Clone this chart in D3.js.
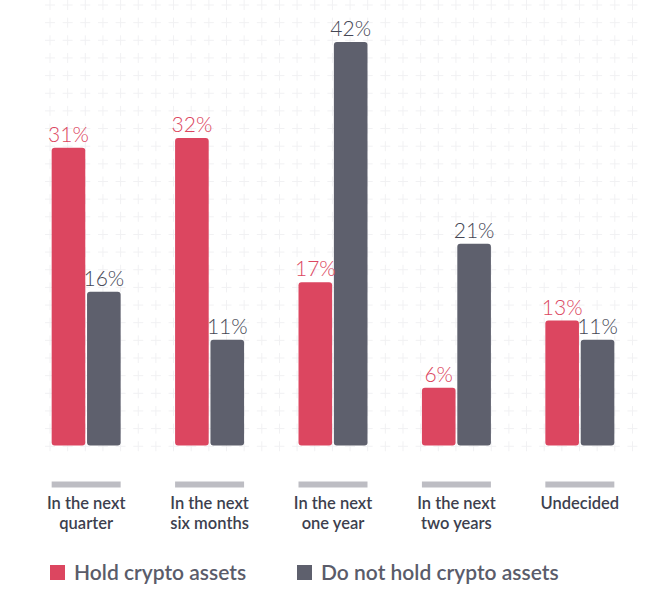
<!DOCTYPE html>
<html>
<head>
<meta charset="utf-8">
<script src="https://cdn.jsdelivr.net/npm/d3@7"></script>
<style>
  body { margin: 0; background: #fff; }
  svg { display: block; }
</style>
</head>
<body>
<div id="chart"></div>
<script>
// data
const categories = ["In the next|quarter", "In the next|six months", "In the next|one year", "In the next|two years", "Undecided"]
const seriesNames = ["Hold crypto assets", "Do not hold crypto assets"]
const holdValues = [31, 32, 17, 6, 13]
const notHoldValues = [16, 11, 42, 21, 11]

const width = 670
const height = 604
const baseY = 445.5
const colors = ["#dc4660", "#5e606d"]
const labelColors = ["#dc4660", "#454755"]

const svg = d3.select("#chart")
  .append("svg")
  .attr("width", width)
  .attr("height", height)

// background grid of little crosses
const gridG = svg.append("g").attr("class", "grid")
const crossCols = d3.range(34).map(i => 50 + i * 17.65)
const crossRows = d3.range(26).map(i => 5 + i * 17.65)
crossRows.forEach(cy => {
  crossCols.forEach(cx => {
    gridG.append("path")
      .attr("d", `M${cx - 5},${cy}H${cx + 5}M${cx},${cy - 5}V${cy + 5}`)
      .attr("stroke", "#f1f1f3")
      .attr("stroke-width", 1)
      .attr("fill", "none")
  })
})

const x0 = d3.scaleBand()
  .domain(categories)
  .range([24.45, 641.55])
  .paddingInner(0.441)
  .paddingOuter(0.2205)

const x1 = d3.scaleBand()
  .domain([0, 1])
  .range([0, x0.bandwidth()])
  .paddingInner(0.05)

const y = d3.scaleLinear()
  .domain([0, 42])
  .range([baseY, 42])

const rows = categories.map((c, i) => ({ cat: c, vals: [holdValues[i], notHoldValues[i]] }))

const groups = svg.selectAll(".group")
  .data(rows)
  .enter().append("g")
  .attr("class", "group")
  .attr("transform", d => `translate(${x0(d.cat)},0)`)

// bars with rounded corners
groups.selectAll(".bar")
  .data(d => d.vals.map((v, s) => ({ v, s })))
  .enter().append("rect")
  .attr("class", "bar")
  .attr("x", d => x1(d.s))
  .attr("y", d => y(d.v))
  .attr("width", x1.bandwidth())
  .attr("height", d => baseY - y(d.v))
  .attr("rx", 3)
  .attr("fill", d => colors[d.s])

// value labels
groups.selectAll(".val")
  .data(d => d.vals.map((v, s) => ({ v, s })))
  .enter().append("text")
  .attr("class", "val")
  .attr("x", d => x1(d.s) + x1.bandwidth() / 2)
  .attr("y", d => y(d.v) - 6)
  .attr("text-anchor", "middle")
  .attr("font-family", "Lato, 'Open Sans', sans-serif")
  .attr("font-weight", 300)
  .attr("font-size", 21)
  .attr("fill", d => labelColors[d.s])
  .text(d => d.v + "%")

// grey underline bars
groups.append("rect")
  .attr("x", 0)
  .attr("y", 481.5)
  .attr("width", x0.bandwidth())
  .attr("height", 6)
  .attr("fill", "#bdbdc3")

// category labels
groups.append("text")
  .attr("text-anchor", "middle")
  .attr("font-family", "Lato, 'Open Sans', sans-serif")
  .attr("font-weight", 600)
  .attr("font-size", 16.5)
  .attr("fill", "#3d3f4e")
  .selectAll("tspan")
  .data(d => d.cat.split("|"))
  .enter().append("tspan")
  .attr("x", x0.bandwidth() / 2)
  .attr("y", (d, i) => 509 + i * 20)
  .text(d => d)

// legend
const legendX = [50, 297]
const legend = svg.selectAll(".legend")
  .data(seriesNames)
  .enter().append("g")
  .attr("class", "legend")
  .attr("transform", (d, i) => `translate(${legendX[i]},565)`)

legend.append("rect")
  .attr("width", 15)
  .attr("height", 15)
  .attr("fill", (d, i) => colors[i])

legend.append("text")
  .attr("x", 24)
  .attr("y", 14.5)
  .attr("font-family", "Lato, 'Open Sans', sans-serif")
  .attr("font-weight", 600)
  .attr("font-size", 21)
  .attr("fill", "#5a5c6a")
  .text(d => d)
</script>
</body>
</html>
